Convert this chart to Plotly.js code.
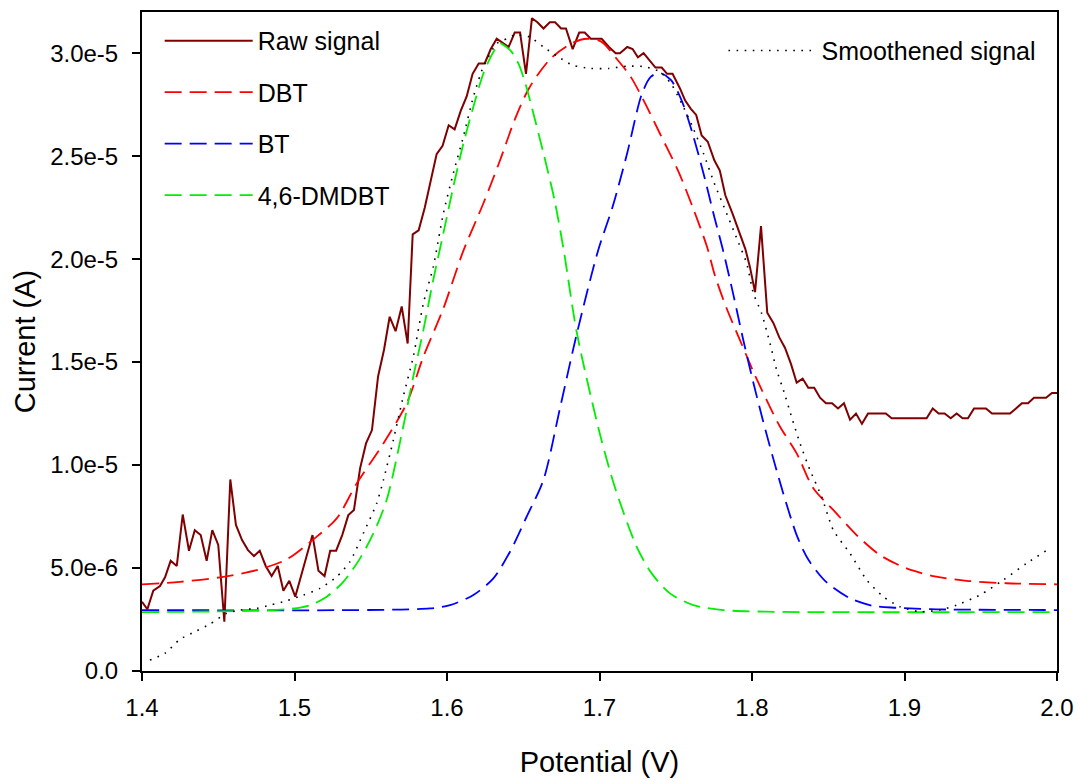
<!DOCTYPE html>
<html>
<head>
<meta charset="utf-8">
<script src="https://cdn.plot.ly/plotly-3.0.1.min.js"></script>
<style>html,body{margin:0;padding:0;background:#fff;}#chart{width:1079px;height:780px;}</style>
</head>
<body>
<div id="chart"></div>
<script>
// ---- Data ----
const rawX = [1.4000,1.4035,1.4074,1.4118,1.4151,1.4188,1.4228,1.4267,1.4308,1.4346,1.4385,1.4424,1.4461,1.4500,1.4540,1.4579,1.4616,1.4656,1.4695,1.4734,1.4772,1.4811,1.4850,1.4890,1.4927,1.4966,1.5005,1.5118,1.5157,1.5197,1.5234,1.5273,1.5313,1.5353,1.5390,1.5430,1.5469,1.5508,1.5548,1.5587,1.5624,1.5663,1.5703,1.5742,1.5775,1.5814,1.5854,1.5893,1.5932,1.5971,1.6011,1.6050,1.6090,1.6129,1.6168,1.6208,1.6247,1.6287,1.6326,1.6365,1.6404,1.6444,1.6479,1.6518,1.6557,1.6593,1.6633,1.6674,1.6709,1.6748,1.6780,1.6824,1.6867,1.6903,1.6943,1.6979,1.7014,1.7062,1.7106,1.7134,1.7182,1.7217,1.7252,1.7289,1.7325,1.7367,1.7408,1.7443,1.7479,1.7527,1.7562,1.7599,1.7634,1.7670,1.7710,1.7753,1.7789,1.7825,1.7873,1.7920,1.7956,1.7987,1.8020,1.8059,1.8100,1.8140,1.8179,1.8216,1.8256,1.8293,1.8332,1.8369,1.8408,1.8446,1.8485,1.8525,1.8564,1.8603,1.8643,1.8682,1.8721,1.8761,1.8800,1.8839,1.8877,1.8916,1.8955,1.8995,1.9034,1.9073,1.9113,1.9145,1.9185,1.9224,1.9263,1.9303,1.9342,1.9381,1.9416,1.9456,1.9495,1.9534,1.9574,1.9613,1.9652,1.9692,1.9731,1.9770,1.9810,1.9849,1.9889,1.9928,1.9967,2.0000];
const rawY = [3.36e-6,3.0e-6,3.9e-6,4.13e-6,4.55e-6,5.35e-6,5.1e-6,7.6e-6,5.84e-6,6.84e-6,6.6e-6,5.35e-6,6.84e-6,6.12e-6,2.39e-6,9.3e-6,7.09e-6,6.36e-6,5.87e-6,5.58e-6,5.84e-6,5.1e-6,4.61e-6,5.1e-6,3.9e-6,4.38e-6,3.61e-6,6.6e-6,4.87e-6,4.61e-6,5.84e-6,5.84e-6,6.6e-6,7.57e-6,7.82e-6,9.84e-6,1.105e-5,1.17e-5,1.43e-5,1.56e-5,1.72e-5,1.65e-5,1.77e-5,1.59e-5,2.12e-5,2.14e-5,2.25e-5,2.38e-5,2.51e-5,2.55e-5,2.65e-5,2.63e-5,2.72e-5,2.79e-5,2.90e-5,2.95e-5,2.95e-5,3.02e-5,3.07e-5,3.05e-5,3.03e-5,3.10e-5,3.10e-5,2.90e-5,3.17e-5,3.15e-5,3.12e-5,3.15e-5,3.15e-5,3.12e-5,3.12e-5,3.02e-5,3.10e-5,3.10e-5,3.07e-5,3.07e-5,3.07e-5,3.03e-5,3.00e-5,3.00e-5,3.03e-5,3.02e-5,2.98e-5,3.00e-5,2.97e-5,2.93e-5,2.93e-5,2.90e-5,2.90e-5,2.83e-5,2.77e-5,2.73e-5,2.70e-5,2.60e-5,2.57e-5,2.48e-5,2.43e-5,2.31e-5,2.22e-5,2.12e-5,2.05e-5,1.96e-5,1.84e-5,2.16e-5,1.74e-5,1.69e-5,1.62e-5,1.57e-5,1.49e-5,1.40e-5,1.42e-5,1.375e-5,1.375e-5,1.327e-5,1.30e-5,1.30e-5,1.275e-5,1.30e-5,1.22e-5,1.25e-5,1.20e-5,1.25e-5,1.25e-5,1.25e-5,1.25e-5,1.227e-5,1.227e-5,1.227e-5,1.227e-5,1.227e-5,1.227e-5,1.227e-5,1.275e-5,1.25e-5,1.25e-5,1.227e-5,1.25e-5,1.227e-5,1.227e-5,1.275e-5,1.275e-5,1.275e-5,1.25e-5,1.25e-5,1.25e-5,1.25e-5,1.275e-5,1.30e-5,1.30e-5,1.327e-5,1.327e-5,1.327e-5,1.35e-5,1.35e-5];

const dbtX = [1.4,1.4249,1.4511,1.4752,1.4949,1.5123,1.5277,1.5408,1.5583,1.5736,1.5845,1.5976,1.6107,1.6238,1.6348,1.6443,1.6538,1.6681,1.6824,1.6919,1.7014,1.7110,1.7205,1.7300,1.7396,1.7515,1.7610,1.7705,1.7757,1.7834,1.7921,1.8009,1.8096,1.8184,1.8293,1.8402,1.8533,1.8686,1.8839,1.9014,1.9189,1.9407,1.9670,2.0];
const dbtY = [4.21e-6,4.33e-6,4.55e-6,4.90e-6,5.42e-6,6.39e-6,7.41e-6,9.11e-6,1.105e-5,1.30e-5,1.526e-5,1.76e-5,2.04e-5,2.27e-5,2.48e-5,2.675e-5,2.83e-5,2.975e-5,3.05e-5,3.07e-5,3.055e-5,2.975e-5,2.885e-5,2.755e-5,2.61e-5,2.43e-5,2.254e-5,2.06e-5,1.92e-5,1.76e-5,1.607e-5,1.453e-5,1.315e-5,1.186e-5,1.057e-5,8.87e-6,7.82e-6,6.6e-6,5.63e-6,4.98e-6,4.61e-6,4.38e-6,4.26e-6,4.21e-6];

const btX = [1.4,1.5889,1.6020,1.6173,1.6304,1.6413,1.6522,1.6632,1.6742,1.6852,1.6990,1.7086,1.7181,1.7277,1.7336,1.7396,1.7468,1.7539,1.7610,1.7682,1.7753,1.7811,1.7877,1.7942,1.8009,1.8074,1.8140,1.8206,1.8293,1.8370,1.8490,1.8643,1.8795,1.8949,1.9167,2.0];
const btY = [2.96e-6,3.04e-6,3.2e-6,3.69e-6,4.5e-6,5.79e-6,7.49e-6,9.27e-6,1.28e-5,1.64e-5,2.04e-5,2.254e-5,2.513e-5,2.80e-5,2.885e-5,2.904e-5,2.87e-5,2.77e-5,2.61e-5,2.416e-5,2.205e-5,2.04e-5,1.83e-5,1.61e-5,1.40e-5,1.21e-5,1.03e-5,8.6e-6,6.6e-6,5.4e-6,4.3e-6,3.53e-6,3.16e-6,3.07e-6,3.0e-6,2.96e-6];

const dmdbtX = [1.4,1.4949,1.5102,1.5211,1.5320,1.5430,1.5517,1.5604,1.5713,1.5779,1.5845,1.5910,1.5976,1.6041,1.6107,1.6173,1.6238,1.6304,1.6348,1.6371,1.6420,1.6468,1.6514,1.6562,1.6633,1.6705,1.6764,1.6852,1.7003,1.7102,1.7244,1.7342,1.7462,1.7615,1.7811,1.8096,2.0];
const dmdbtY = [2.86e-6,3.0e-6,3.2e-6,3.61e-6,4.33e-6,5.47e-6,6.68e-6,8.3e-6,1.186e-5,1.43e-5,1.655e-5,1.90e-5,2.125e-5,2.35e-5,2.56e-5,2.74e-5,2.90e-5,3.006e-5,3.047e-5,3.04e-5,3.01e-5,2.95e-5,2.853e-5,2.72e-5,2.513e-5,2.287e-5,2.05e-5,1.64e-5,1.15e-5,8.9e-6,6.03e-6,4.74e-6,3.77e-6,3.2e-6,2.96e-6,2.88e-6,2.86e-6];

const smoothX = [1.4052,1.4151,1.4249,1.4348,1.4446,1.4555,1.4643,1.4752,1.4840,1.4949,1.5058,1.5167,1.5277,1.5364,1.5451,1.5539,1.5583,1.5648,1.5713,1.5779,1.5845,1.5910,1.5976,1.6041,1.6107,1.6173,1.6238,1.6326,1.6392,1.6443,1.6538,1.6633,1.6728,1.6824,1.6942,1.7062,1.7181,1.7300,1.7396,1.7468,1.7539,1.7610,1.7682,1.7753,1.7825,1.7896,1.7965,1.8009,1.8063,1.8118,1.8162,1.8206,1.8259,1.8315,1.8380,1.8457,1.8533,1.8643,1.8752,1.8861,1.8970,1.9102,1.9233,1.9342,1.9495,1.9648,1.9801,1.9954];
const smoothY = [5.3e-7,8.6e-7,1.54e-6,1.91e-6,2.28e-6,2.8e-6,2.96e-6,3.04e-6,3.2e-6,3.41e-6,3.69e-6,4.01e-6,4.58e-6,5.31e-6,6.68e-6,8.14e-6,9.27e-6,1.121e-5,1.332e-5,1.526e-5,1.785e-5,1.963e-5,2.222e-5,2.416e-5,2.594e-5,2.788e-5,2.934e-5,3.047e-5,3.07e-5,3.088e-5,3.08e-5,3.03e-5,2.983e-5,2.942e-5,2.926e-5,2.926e-5,2.937e-5,2.934e-5,2.91e-5,2.853e-5,2.756e-5,2.643e-5,2.513e-5,2.368e-5,2.238e-5,2.108e-5,1.98e-5,1.834e-5,1.737e-5,1.591e-5,1.461e-5,1.364e-5,1.235e-5,1.105e-5,9.76e-6,8.46e-6,6.84e-6,5.71e-6,4.42e-6,3.61e-6,3.12e-6,2.88e-6,2.96e-6,3.2e-6,3.69e-6,4.42e-6,5.23e-6,5.96e-6];

const xTickVals = [1.4,1.5,1.6,1.7,1.8,1.9,2.0];
const xTickText = ['1.4','1.5','1.6','1.7','1.8','1.9','2.0'];
const yTickVals = [0,5e-6,1e-5,1.5e-5,2e-5,2.5e-5,3e-5];
const yTickText = ['0.0','5.0e-6','1.0e-5','1.5e-5','2.0e-5','2.5e-5','3.0e-5'];

const FONT = '"Liberation Sans", Arial, Helvetica, sans-serif';
const dashPat = '17px,8px';

const traces = [
  {x: rawX, y: rawY, name: 'Raw signal', mode: 'lines', legendgroup: 'a', legend: 'legend',
   line: {color: '#7f0000', width: 2}},
  {x: dbtX, y: dbtY, name: 'DBT', mode: 'lines', legendgroup: 'b', legend: 'legend',
   line: {color: '#ff0000', width: 1.8, dash: dashPat, shape: 'spline', smoothing: 0.8}},
  {x: btX, y: btY, name: 'BT', mode: 'lines', legendgroup: 'c', legend: 'legend',
   line: {color: '#0000ff', width: 1.8, dash: dashPat, shape: 'spline', smoothing: 0.8}},
  {x: dmdbtX, y: dmdbtY, name: '4,6-DMDBT', mode: 'lines', legendgroup: 'd', legend: 'legend',
   line: {color: '#00ee00', width: 1.8, dash: dashPat, shape: 'spline', smoothing: 0.8}},
  {x: smoothX, y: smoothY, name: 'Smoothened signal', mode: 'lines', legend: 'legend2',
   line: {color: '#000000', width: 1.6, dash: '1.6px,6.5px', shape: 'spline', smoothing: 0.6}}
];

const axisCommon = {
  showgrid: false, zeroline: false, showline: true, linecolor: '#000', linewidth: 2,
  mirror: true, ticks: 'outside', ticklen: 8, tickwidth: 2, tickcolor: '#000',
  tickfont: {family: FONT, size: 24, color: '#000'}
};

const layout = {
  width: 1079, height: 780,
  margin: {l: 142, r: 22, t: 12, b: 109, pad: 0},
  paper_bgcolor: '#fff', plot_bgcolor: '#fff',
  font: {family: FONT, color: '#000'},
  xaxis: Object.assign({}, axisCommon, {
    range: [1.4, 2.0], tickvals: xTickVals, ticktext: xTickText, ticklabelstandoff: 6,
    title: {text: 'Potential (V)', font: {family: FONT, size: 29, color: '#000'}, standoff: 32}
  }),
  yaxis: Object.assign({}, axisCommon, {
    range: [0, 3.2e-5], tickvals: yTickVals, ticktext: yTickText, ticklabelstandoff: 9,
    title: {text: 'Current (A)', font: {family: FONT, size: 29, color: '#000'}, standoff: 6}
  }),
  showlegend: true,
  legend: {
    x: 0.0193, y: 0.991, xanchor: 'left', yanchor: 'top', xref: 'paper', yref: 'paper',
    bgcolor: 'rgba(0,0,0,0)', borderwidth: 0, itemwidth: 88, tracegroupgap: 16,
    font: {family: FONT, size: 25, color: '#000'}, traceorder: 'grouped'
  },
  legend2: {
    x: 0.6355, y: 0.976, xanchor: 'left', yanchor: 'top', xref: 'paper', yref: 'paper',
    bgcolor: 'rgba(0,0,0,0)', borderwidth: 0, itemwidth: 88,
    font: {family: FONT, size: 25, color: '#000'}
  }
};

Plotly.newPlot('chart', traces, layout, {displayModeBar: false, staticPlot: true});
</script>
</body>
</html>
